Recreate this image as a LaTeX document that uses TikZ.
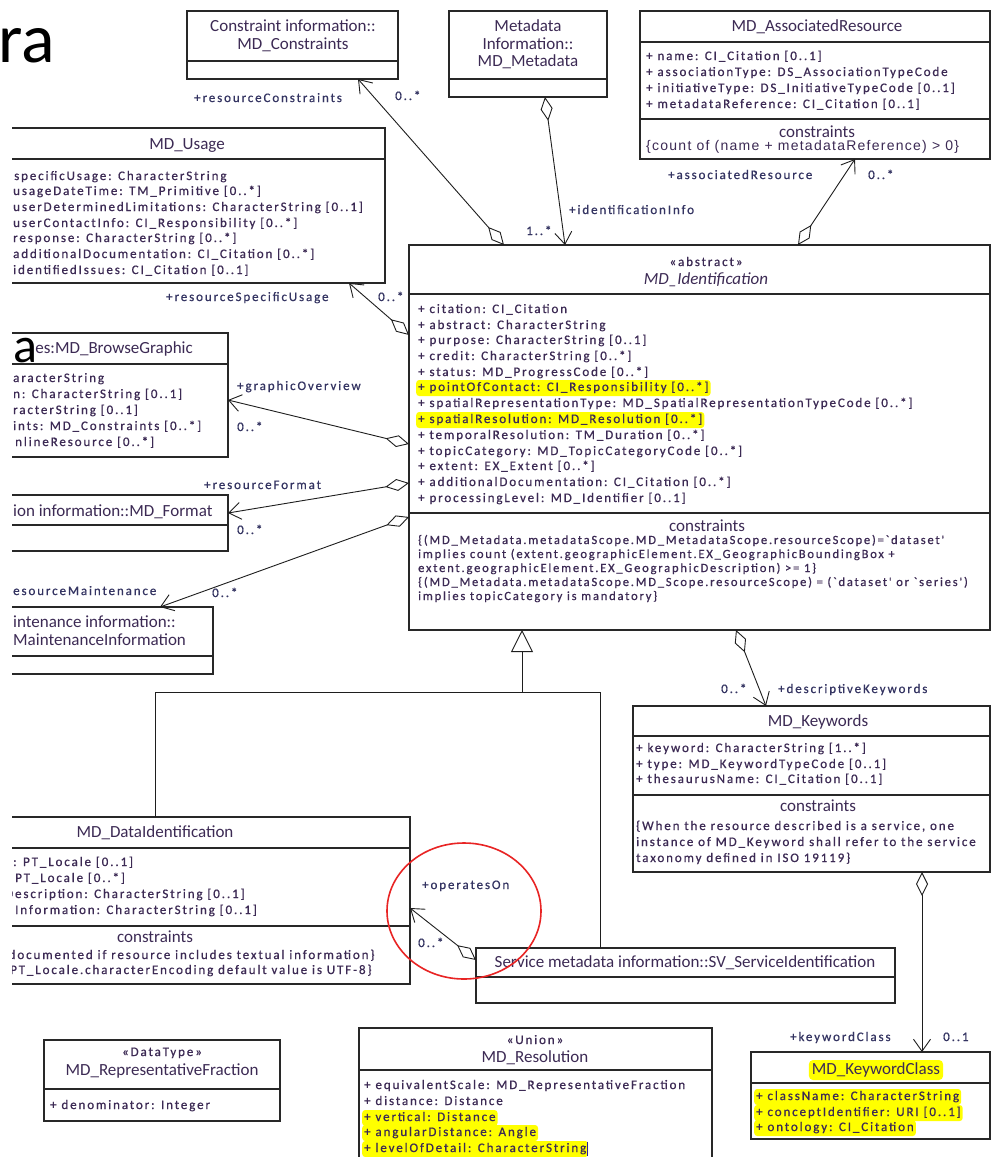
\documentclass[tikz,border=0pt]{standalone}
\usepackage{fontspec}
\setmainfont{Carlito}
\newfontfamily\attrf[LetterSpace=14.5,FakeBold=0.7]{Carlito}
\newfontfamily\titlef{Carlito}
\newfontfamily\arialf[LetterSpace=9]{Liberation Sans}
\usetikzlibrary{arrows.meta,calc}
\definecolor{txt}{RGB}{60,42,84}
\definecolor{lblc}{RGB}{52,52,98}
\definecolor{boxc}{RGB}{40,40,40}
\definecolor{connc}{RGB}{30,30,30}
\definecolor{hl}{RGB}{255,255,0}
\definecolor{redc}{RGB}{232,36,36}
\definecolor{cursorc}{RGB}{40,30,160}
\newcommand{\hdiv}[2]{\draw[divl] (#1.west |- 0,#2) -- (#1.east |- 0,#2);}
\newcommand{\attrline}[4]{\node[attr] (#1) at (#2,#3) {#4};}
\newcommand{\consline}[4]{\node[attr,font=\attrf\fontsize{12.5}{14}\selectfont] (#1) at (#2,#3) {#4};}
\newcommand{\ttlline}[4]{\node[ttl] (#1) at (#2,#3) {#4};}
\newcommand{\lblline}[4]{\node[lbl] (#1) at (#2,#3) {#4};}
\begin{document}
\begin{tikzpicture}[x=1pt,y=-1pt,
  box/.style={draw=boxc,line width=1.1pt,anchor=north west,inner sep=0pt,outer sep=0pt,fill=white},
  divl/.style={draw=boxc,line width=1.1pt},
  ttl/.style={font=\titlef\fontsize{17}{19}\selectfont,text=txt,inner sep=0pt,text height=12pt,text depth=4pt},
  ittl/.style={ttl,font=\titlef\itshape\fontsize{17}{19}\selectfont},
  attr/.style={font=\attrf\fontsize{13}{15}\selectfont,text=txt,inner sep=0pt,anchor=west,text height=9pt,text depth=3pt},
  lbl/.style={attr,text=lblc},
  stereo/.style={attr,anchor=center},
  hla/.style={attr,fill=hl,rounded corners=3pt,inner xsep=2pt,inner ysep=2pt},
  cons/.style={font=\arialf\fontsize{14}{16}\selectfont,text=txt,inner sep=0pt,anchor=west,text height=10pt,text depth=3pt},
  conn/.style={draw=connc,line width=0.9pt},
  agg/.style={conn,{Diamond[open,length=24pt,width=12pt]}-{Straight Barb[length=12pt,width=17pt]}},
  gen/.style={conn,-{Triangle[open,length=22pt,width=22pt]}},
  slide/.style={text=black,inner sep=0pt,anchor=base west},
  ring/.style={draw=redc,line width=1.6pt},
]
\useasboundingbox (0,0) rectangle (992,1157);
\fill[white] (0,0) rectangle (992,1157);
\begin{scope}
\clip (12,0) rectangle (992,1157);
% ---------- boxes ----------
\node[box,minimum width=211pt,minimum height=68pt] (constr) at (187,11) {};
\node[box,minimum width=158pt,minimum height=86pt] (meta) at (449,11) {};
\node[box,minimum width=350pt,minimum height=148pt] (assoc) at (640,11) {};
\node[box,minimum width=395pt,minimum height=155pt] (usage) at (-10,128) {};
\node[box,minimum width=238pt,minimum height=124pt] (browse) at (-10,333) {};
\node[box,minimum width=238pt,minimum height=56pt] (format) at (-10,495) {};
\node[box,minimum width=223pt,minimum height=67pt] (maint) at (-10,607) {};
\node[box,minimum width=581pt,minimum height=385pt] (ident) at (409,245) {};
\node[box,minimum width=357pt,minimum height=166pt] (keyw) at (633,706) {};
\node[box,minimum width=510pt,minimum height=167pt] (dataid) at (-100,817) {};
\node[box,minimum width=419pt,minimum height=55pt] (serv) at (476,948) {};
\node[box,minimum width=239pt,minimum height=87pt] (kwc) at (751,1052) {};
\node[box,minimum width=353pt,minimum height=150pt] (reso) at (359,1028) {};
\node[box,minimum width=236pt,minimum height=81pt] (repf) at (44,1040) {};
% dividers
\hdiv{constr}{61}
\hdiv{meta}{79}
\hdiv{assoc}{42}\hdiv{assoc}{119}
\hdiv{usage}{159}
\hdiv{browse}{364}
\hdiv{format}{525}
\hdiv{maint}{656}
\hdiv{ident}{294}\hdiv{ident}{513}
\hdiv{keyw}{736}\hdiv{keyw}{795}
\hdiv{dataid}{848}\hdiv{dataid}{926}
\hdiv{serv}{977}
\hdiv{kwc}{1083}
\hdiv{reso}{1070}
\hdiv{repf}{1089}
% ---------- connectors ----------
\draw[agg] ($(ident.north west)+(95,0)$) -- ($(constr.south west)+(171,0)$);
\draw[agg] ($(meta.south west)+(96,0)$) -- ($(ident.north west)+(156,0)$);
\draw[agg] ($(ident.north west)+(389,0)$) -- ($(assoc.south west)+(215,0)$);
\draw[agg] ($(ident.north west)+(0,90)$) -- ($(usage.south west)+(359,0)$);
\draw[agg] ($(ident.north west)+(0,199)$) -- ($(browse.north east)+(0,67)$);
\draw[agg] ($(ident.north west)+(0,238)$) -- ($(format.north east)+(0,18)$);
\draw[agg] ($(ident.north west)+(0,272)$) -- ($(maint.north west)+(170,0)$);
\draw[agg] ($(ident.south west)+(327,0)$) -- ($(keyw.north west)+(133,0)$);
\draw[agg] ($(serv.north west)+(0,12)$) -- ($(dataid.north east)+(0,91)$);
\draw[agg] ($(keyw.south west)+(289,0)$) -- ($(kwc.north west)+(171,0)$);
\coordinate (gj) at ($(ident.south west)+(113,62)$);
\draw[conn] ($(dataid.north west)+(255,0)$) |- (gj);
\draw[conn] ($(serv.north west)+(124,0)$) |- (gj);
\draw[gen] (gj) -- (gj |- ident.south);
% ---------- texts ----------
\ttlline{constrT1}{293}{27}{Constraint information::}
\ttlline{constrT2}{293}{45}{MD\_Constraints}
\ttlline{metaT1}{528}{27}{Metadata}
\ttlline{metaT2}{528}{45}{Information::}
\ttlline{metaT3}{528}{62}{MD\_Metadata}
\ttlline{assocT}{817}{27}{MD\_AssociatedResource}
\attrline{assocA1}{646}{57}{+ name: CI\_Citation [0..1]}
\attrline{assocA2}{646}{73}{+ associationType: DS\_AssociationTypeCode}
\attrline{assocA3}{646}{89}{+ initiativeType: DS\_InitiativeTypeCode [0..1]}
\attrline{assocA4}{646}{105}{+ metadataReference: CI\_Citation [0..1]}
\ttlline{assocCT}{817}{133}{constraints}
\node[cons] (assocC1) at (646,147) {\{count of (name + metadataReference) > 0\}};
% usage
\ttlline{usageT}{187}{145}{MD\_Usage}
\attrline{usageA1}{14}{177}{specificUsage: CharacterString}
\attrline{usageA2}{13}{192}{usageDateTime: TM\_Primitive [0..*]}
\attrline{usageA3}{13}{208}{userDeterminedLimitations: CharacterString [0..1]}
\attrline{usageA4}{13}{224}{userContactInfo: CI\_Responsibility [0..*]}
\attrline{usageA5}{13}{239}{response: CharacterString [0..*]}
\attrline{usageA6}{13}{255}{additionalDocumentation: CI\_Citation [0..*]}
\attrline{usageA7}{13}{271}{identifiedIssues: CI\_Citation [0..1]}
% browse
\node[ttl,anchor=east] (browseT) at (193,349) {es:MD\_BrowseGraphic};
\attrline{browseA1}{13}{379}{aracterString}
\attrline{browseA2}{13}{395}{n: CharacterString [0..1]}
\attrline{browseA3}{13}{411}{racterString [0..1]}
\attrline{browseA4}{13}{427}{ints: MD\_Constraints [0..*]}
\attrline{browseA5}{15}{443}{nlineResource [0..*]}
% format, maintenance
\node[ttl,anchor=west] (formatT) at (13,512) {ion information::MD\_Format};
\node[ttl,anchor=west] (maintT1) at (13,623) {intenance information::};
\node[ttl,anchor=west] (maintT2) at (13,641) {MaintenanceInformation};
% identification
\node[stereo] (identS) at (706,263) {«abstract»};
\node[ittl] (identT) at (706,280) {MD\_Identification};
\attrline{identA1}{418}{310}{+ citation: CI\_Citation}
\attrline{identA2}{418}{326}{+ abstract: CharacterString}
\attrline{identA3}{418}{341}{+ purpose: CharacterString [0..1]}
\attrline{identA4}{418}{357}{+ credit: CharacterString [0..*]}
\attrline{identA5}{418}{373}{+ status: MD\_ProgressCode [0..*]}
\node[hla] (identA6) at (416,388) {+ pointOfContact: CI\_Responsibility [0..*]};
\attrline{identA7}{418}{404}{+ spatialRepresentationType: MD\_SpatialRepresentationTypeCode [0..*]}
\node[hla] (identA8) at (416,420) {+ spatialResolution: MD\_Resolution [0..*]};
\attrline{identA9}{418}{436}{+ temporalResolution: TM\_Duration [0..*]}
\attrline{identA10}{418}{452}{+ topicCategory: MD\_TopicCategoryCode [0..*]}
\attrline{identA11}{418}{467}{+ extent: EX\_Extent [0..*]}
\attrline{identA12}{418}{483}{+ additionalDocumentation: CI\_Citation [0..*]}
\attrline{identA13}{418}{499}{+ processingLevel: MD\_Identifier [0..1]}
\ttlline{identCT}{707}{527}{constraints}
\consline{identC1}{418}{541}{\{(MD\_Metadata.metadataScope.MD\_MetadataScope.resourceScope)=`dataset'}
\consline{identC2}{418}{555}{implies count (extent.geographicElement.EX\_GeographicBoundingBox +}
\consline{identC3}{418}{569}{extent.geographicElement.EX\_GeographicDescription) >= 1\}}
\consline{identC4}{418}{583}{\{(MD\_Metadata.metadataScope.MD\_Scope.resourceScope) = (`dataset' or `series')}
\consline{identC5}{418}{597}{implies topicCategory is mandatory\}}
% keywords
\ttlline{keywT}{818}{722}{MD\_Keywords}
\attrline{keywA1}{636}{749}{+ keyword: CharacterString [1..*]}
\attrline{keywA2}{636}{765}{+ type: MD\_KeywordTypeCode [0..1]}
\attrline{keywA3}{636}{780}{+ thesaurusName: CI\_Citation [0..1]}
\ttlline{keywCT}{818}{807}{constraints}
\attrline{keywC1}{636}{827}{\{When the resource described is a service, one}
\attrline{keywC2}{636}{843}{instance of MD\_Keyword shall refer to the service}
\attrline{keywC3}{636}{859}{taxonomy defined in ISO 19119\}}
% data identification
\ttlline{dataT}{155}{833}{MD\_DataIdentification}
\attrline{dataA1}{13}{863}{: PT\_Locale [0..1]}
\attrline{dataA2}{15}{879}{PT\_Locale [0..*]}
\attrline{dataA3}{5}{895}{Description: CharacterString [0..1]}
\attrline{dataA4}{15}{911}{Information: CharacterString [0..1]}
\ttlline{dataCT}{155}{938}{constraints}
\attrline{dataC1}{8.5}{956}{documented if resource includes textual information\}}
\attrline{dataC2}{10}{971}{PT\_Locale.characterEncoding default value is UTF-8\}}
% service
\ttlline{servT}{685}{963}{Service metadata information::SV\_ServiceIdentification}
% keyword class
\node[ttl,fill=hl,rounded corners=4pt,inner xsep=3pt,inner ysep=2pt] (kwcT) at (876,1070) {MD\_KeywordClass};
\node[hla] (kwcA1) at (754,1097) {+ className: CharacterString};
\node[hla] (kwcA2) at (754,1113) {+ conceptIdentifier: URI [0..1]};
\node[hla] (kwcA3) at (754,1128) {+ ontology: CI\_Citation};
% resolution
\node[stereo] (resoS) at (535,1041) {«Union»};
\ttlline{resoT}{535}{1058}{MD\_Resolution}
\attrline{resoA1}{364}{1086}{+ equivalentScale: MD\_RepresentativeFraction}
\attrline{resoA2}{364}{1102}{+ distance: Distance}
\node[hla] (resoA3) at (362,1118) {+ vertical: Distance};
\node[hla] (resoA4) at (362,1133) {+ angularDistance: Angle};
\node[hla] (resoA5) at (362,1149) {+ levelOfDetail: CharacterString};
\draw[cursorc,line width=1.4pt] ($(resoA5.north east)+(-1,1)$) -- ($(resoA5.south east)+(-1,-1)$);
% representative fraction
\node[stereo] (repfS) at (162,1053) {«DataType»};
\ttlline{repfT}{162}{1071}{MD\_RepresentativeFraction}
\attrline{repfA1}{50}{1106}{+ denominator: Integer}
% ---------- role labels ----------
\lblline{lResCon}{194}{99}{+resourceConstraints}
\lblline{mResCon}{395}{97}{0..*}
\lblline{lIdInfo}{569}{211}{+identificationInfo}
\lblline{mIdInfo}{526}{232}{1..*}
\lblline{lAssoc}{668}{176}{+associatedResource}
\lblline{mAssoc}{868}{176}{0..*}
\lblline{lUsage}{166}{298}{+resourceSpecificUsage}
\lblline{mUsage}{378}{298}{0..*}
\lblline{lGraph}{237}{387}{+graphicOverview}
\lblline{mGraph}{237}{428}{0..*}
\lblline{lFormat}{204}{486}{+resourceFormat}
\lblline{mFormat}{237}{531}{0..*}
\lblline{lMaint}{13}{592}{esourceMaintenance}
\lblline{mMaint}{212}{594}{0..*}
\lblline{mKeyw}{721}{690}{0..*}
\lblline{lKeyw}{778}{690}{+descriptiveKeywords}
\lblline{lOper}{422}{886}{+operatesOn}
\lblline{mOper}{418}{944}{0..*}
\lblline{lKwc}{790}{1038}{+keywordClass}
\lblline{mKwc}{943}{1038}{0..1}
% red mark
\draw[ring] (464,911) ellipse [x radius=77pt, y radius=68pt];
\end{scope}
% slide text fragments
\node[slide,font=\titlef\fontsize{70}{70}\selectfont] (slideRa) at (-2,62) {ra};
\node[slide,font=\titlef\fontsize{50}{50}\selectfont] (slideA) at (13,362) {a};
\end{tikzpicture}
\end{document}
